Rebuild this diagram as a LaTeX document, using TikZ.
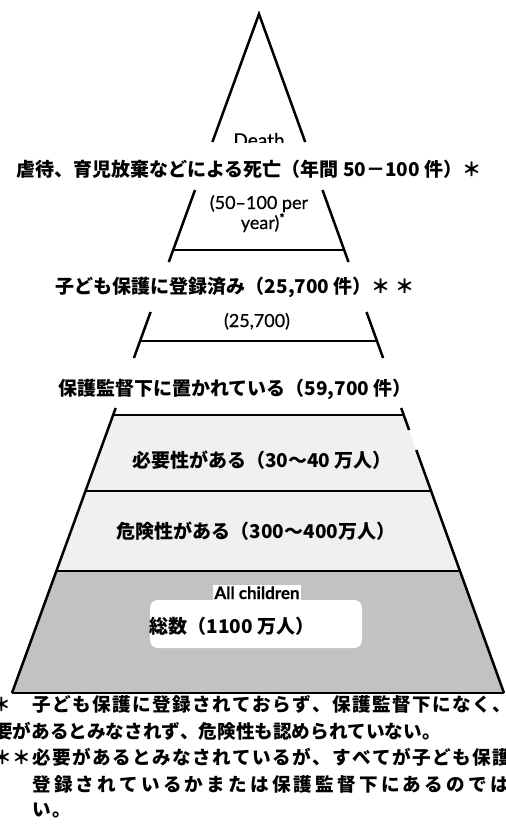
\documentclass[tikz,border=0pt]{standalone}
\usepackage{fontspec}
\newfontfamily\jpf{Noto Sans CJK JP}
\newfontfamily\latf{Lato}[FakeBold=0.6]
\tikzset{
  edge/.style={line width=2.5pt, line join=miter},
  hline/.style={line width=2.8pt},
  jlab/.style={font=\jpf\bfseries\fontsize{19}{19}\selectfont, anchor=base, inner sep=0pt},
  elab/.style={font=\latf\fontsize{18}{18}\selectfont, anchor=base, inner sep=0pt},
  jch/.style={font=\jpf\bfseries\fontsize{18.6}{18.6}\selectfont, anchor=base west, inner sep=0pt},
}
\newcommand\jrow[5]{\foreach \c [count=\i from 0] in {#5} {\node[jch] (#1\i) at ({#2+\i*#3},#4) {\c};}}
\begin{document}
\begin{tikzpicture}[x=1pt,y=-1pt]
\useasboundingbox (0,0) rectangle (506,830);
\clip (0,0) rectangle (506,830);
% key points of the pyramid edges
\coordinate (apex) at (259,14);
\coordinate (l142) at (212.4,142); \coordinate (r142) at (305.2,142);
\coordinate (l190) at (195,190);   \coordinate (r190) at (322.5,190);
\coordinate (l250) at (173.1,250); \coordinate (r250) at (344.1,250);
\coordinate (l262) at (168.8,262); \coordinate (r262) at (348.5,262);
\coordinate (l312) at (150.6,312); \coordinate (r312) at (366.5,312);
\coordinate (l341) at (140,341);   \coordinate (r341) at (377,341);
\coordinate (l358) at (133.9,358); \coordinate (r358) at (383.1,358);
\coordinate (l408) at (115.7,408); \coordinate (r408) at (401.2,408);
\coordinate (l415) at (113.1,415); \coordinate (r415) at (403.7,415);
\coordinate (r430) at (409.1,430); \coordinate (r450) at (416.3,450);
\coordinate (l491) at (85.5,491);  \coordinate (r491) at (431.1,491);
\coordinate (l571) at (56.4,571);  \coordinate (r571) at (460,571);
\coordinate (bl) at (12,693);      \coordinate (br) at (504,693);
% shading of the lower bands
\fill[black!6] (l415) -- (r415) -- (r571) -- (l571) -- cycle;
\fill[black!24] (l571) -- (r571) -- (br) -- (bl) -- cycle;
\fill[white, rounded corners=8pt] (150,600) rectangle (362,648);
% edges
\draw[edge] (l142) -- (apex) -- (r142);
\draw[edge] (l190) -- (l262); \draw[edge] (r190) -- (r262);
\draw[edge] (l312) -- (l358); \draw[edge] (r312) -- (r358);
\draw[edge] (l408) -- (bl);
\draw[edge] (r408) -- (r430); \draw[edge] (r450) -- (br);
% horizontal dividers
\draw[hline] (l250) -- (r250);
\draw[hline] (l341) -- (r341);
\draw[hline] (l415) -- (r415);
\draw[hline] (l491) -- (r491);
\draw[hline] (l571) -- (r571);
\draw[hline] (bl) -- (br);
% English labels (partly cut)
\begin{scope}
  \clip (150,0) rectangle (370,142);
  \node[elab, font=\latf\fontsize{19}{19}\selectfont] (death) at (259,147) {Death};
\end{scope}
\node[elab] (per1) at (259,209) {(50–100 per};
\node[elab] (per2) at (263,229) {year)\textsuperscript{*}};
\begin{scope}
  \clip (150,312) rectangle (370,400);
  \node[elab] (n257) at (257,327) {(25,700)};
\end{scope}
\node[elab, font=\latf\bfseries\fontsize{17}{17}\selectfont, fill=white, inner sep=1pt] (allc) at (257,599) {All children};
% Japanese labels
\node[jlab] (t1) at (249,176) {虐待、育児放棄などによる死亡（年間 50－100 件）＊};
\node[jlab] (t2) at (235,293) {子ども保護に登録済み（25,700 件）＊ ＊};
\node[jlab] (t3) at (235,395) {保護監督下に置かれている（59,700 件）};
\node[jlab] (t4) at (262,467) {必要性がある（30～40 万人）};
\node[jlab] (t5) at (256,538) {危険性がある（300～400万人）};
\node[jlab] (t6) at (232,633) {総数（1100 万人）};
% footnotes
\node[jch] (fs1) at (-8,711) {＊};
\jrow{fa}{32}{20}{711}{子,ど,も,保,護,に,登,録,さ,れ,て,お,ら,ず,、,保,護,監,督,下,に,な,く,、}
\jrow{fb}{-6}{18.6}{738}{要,が,あ,る,と,み,な,さ,れ,ず,、,危,険,性,も,認,め,ら,れ,て,い,な,い,。}
\node[jch] (fs2) at (-7,764.5) {＊};
\node[jch] (fs3) at (12,764.5) {＊};
\jrow{fc}{32}{20}{764.5}{必,要,が,あ,る,と,み,な,さ,れ,て,い,る,が,、,す,べ,て,が,子,ど,も,保,護}
\jrow{fd}{32}{21.8}{791}{登,録,さ,れ,て,い,る,か,ま,た,は,保,護,監,督,下,に,あ,る,の,で,は}
\jrow{fe}{32}{20}{816}{い,。}
\end{tikzpicture}
\end{document}
